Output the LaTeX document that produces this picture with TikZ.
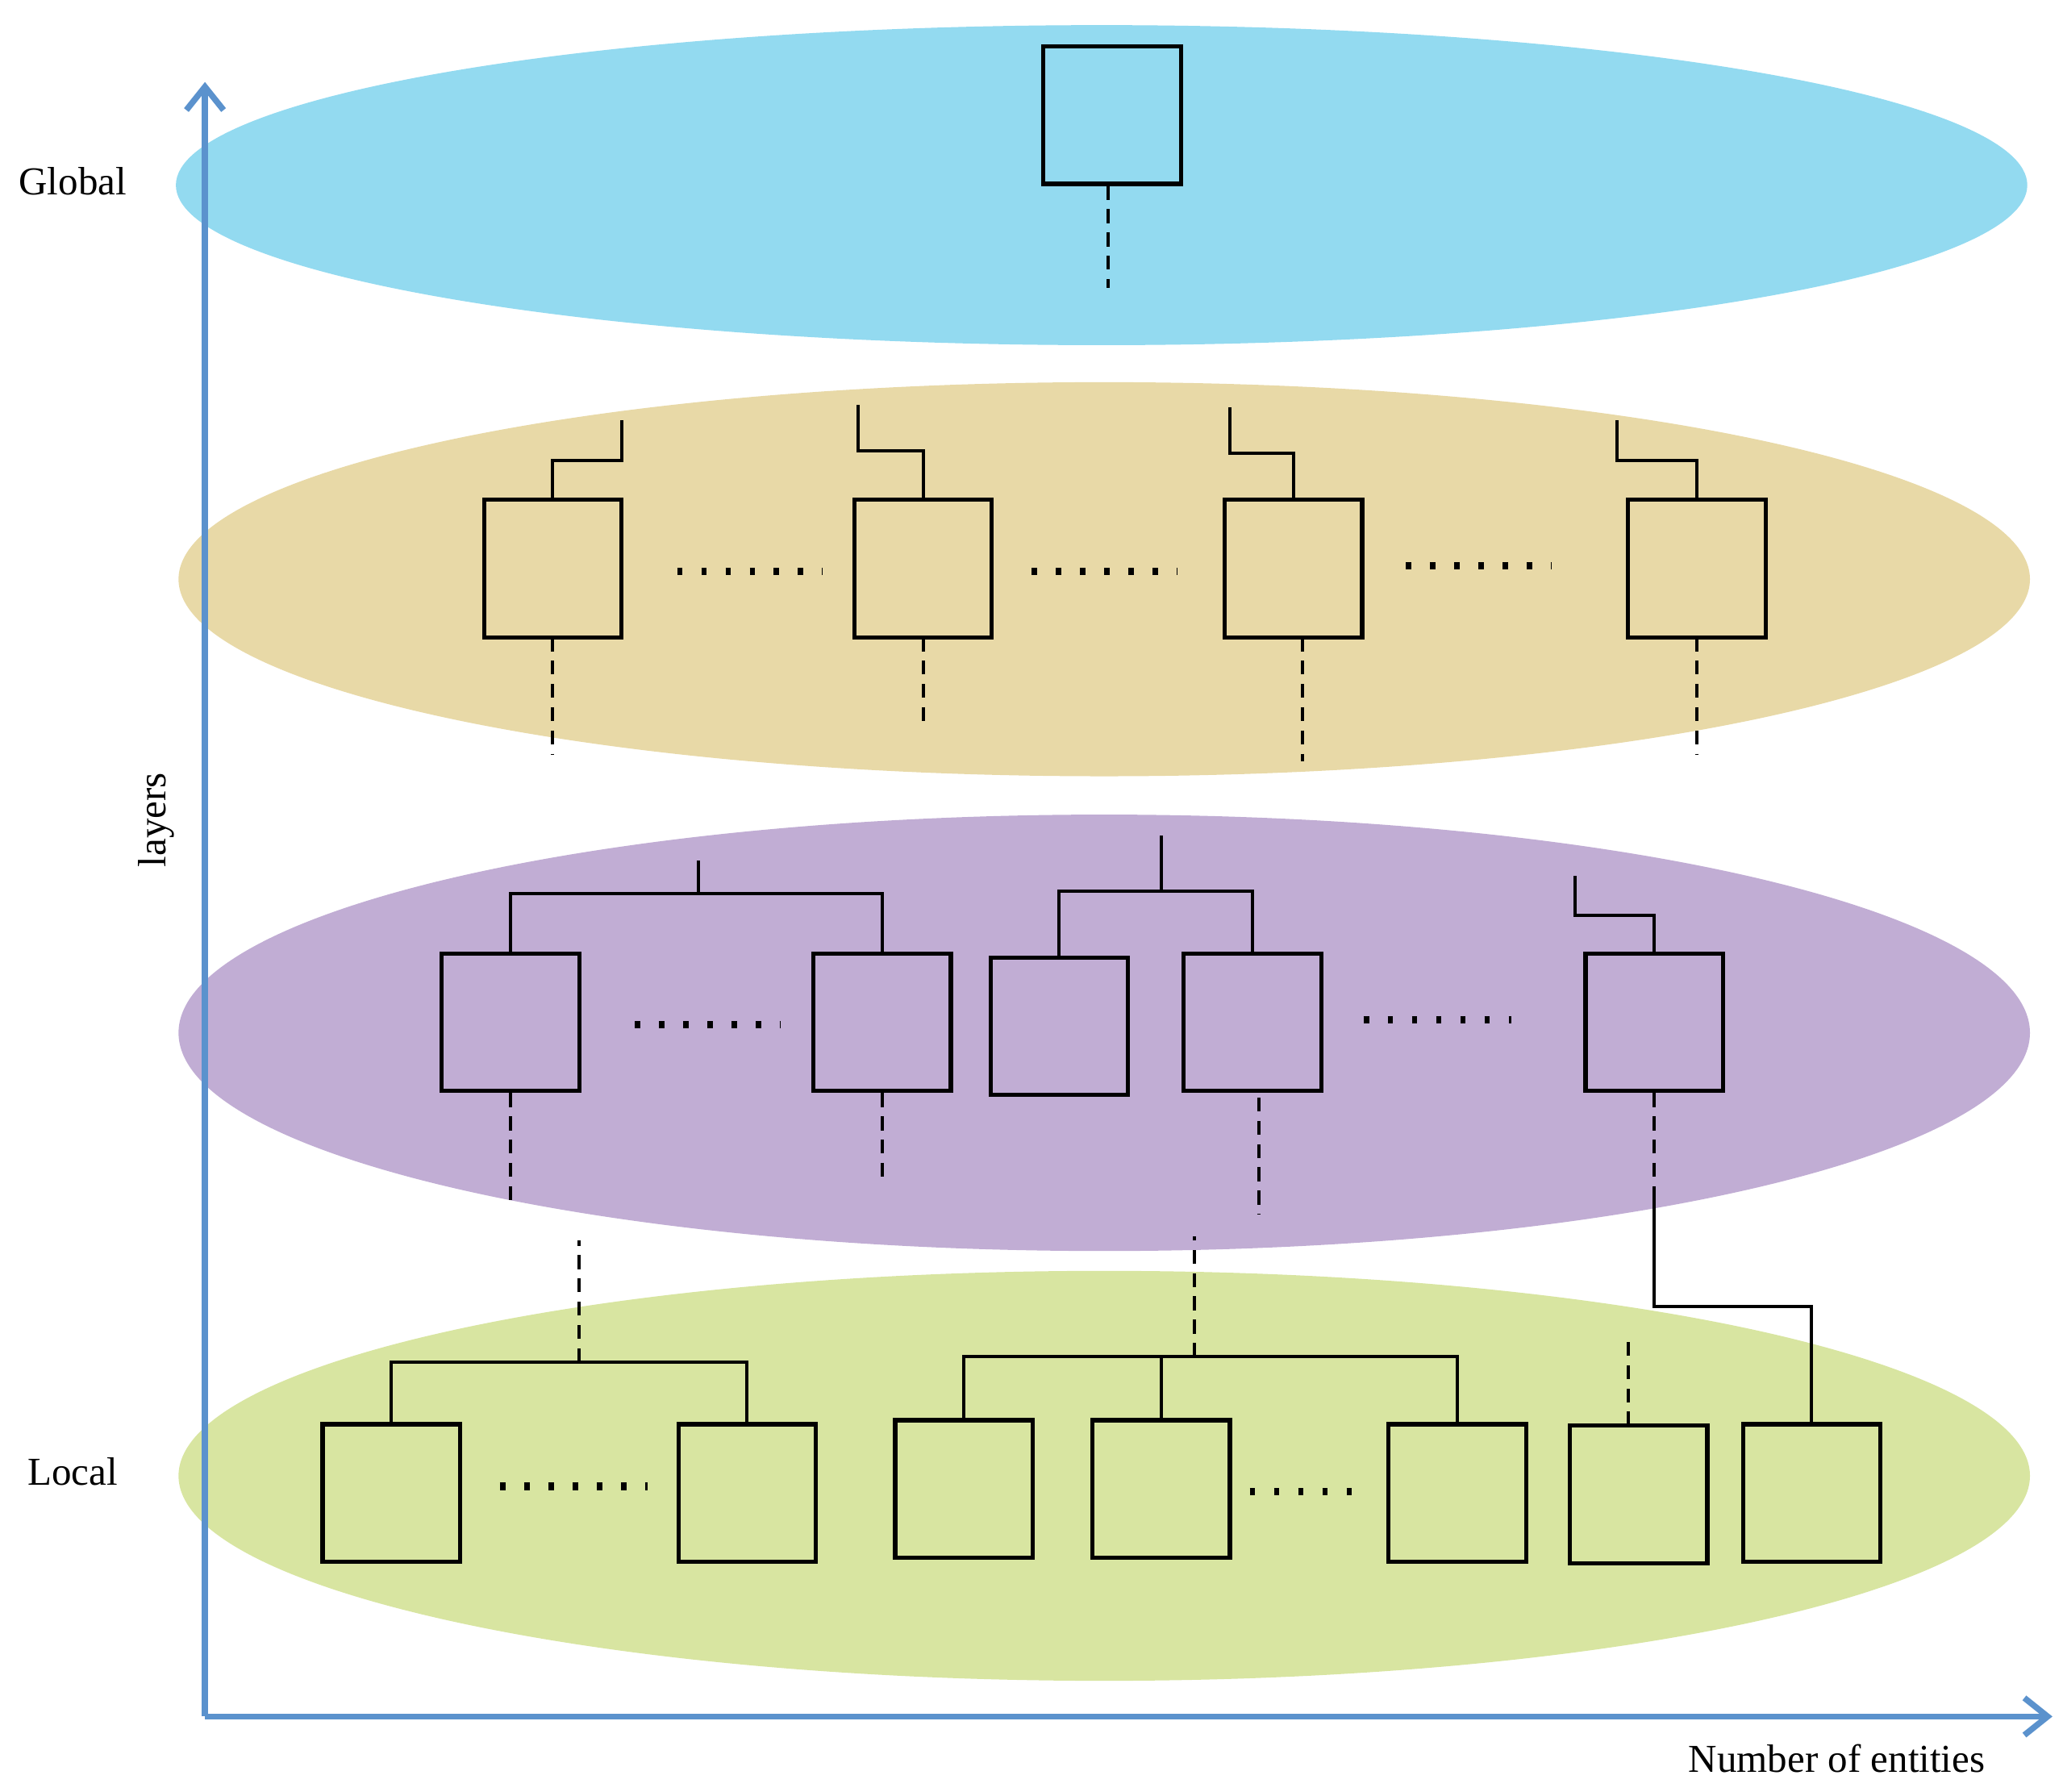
\documentclass[tikz,border=0pt]{standalone}
\usepackage{fontspec}
\setmainfont{Liberation Serif}
\usetikzlibrary{arrows.meta}
\definecolor{AxisBlue}{RGB}{91,146,205}
\definecolor{LayerGlobal}{RGB}{147,218,240}
\definecolor{LayerTan}{RGB}{232,217,167}
\definecolor{LayerPurple}{RGB}{193,173,212}
\definecolor{LayerLocal}{RGB}{216,229,161}
\begin{document}
\begin{tikzpicture}[x=0.01cm,y=-0.01cm,font=\fontsize{8.5}{10}\selectfont,
  box/.style={draw,line width=0.9pt,minimum width=1.04cm,minimum height=1.04cm,inner sep=0pt},
  link/.style={line width=0.7pt},
  dlink/.style={line width=0.7pt,dash pattern=on 3pt off 2pt},
  gap/.style={line width=1.6pt,dash pattern=on 1.2pt off 4pt},
  axis/.style={AxisBlue,line width=1.3pt,-{Straight Barb[length=5pt,width=8pt]}}]
\useasboundingbox (0,0) rectangle (1560,1355);
% layers
\fill[LayerGlobal] (833,140) ellipse (700 and 121);
\fill[LayerTan] (835,438) ellipse (700 and 149);
\fill[LayerPurple] (835,781) ellipse (700 and 165);
\fill[LayerLocal] (835,1116) ellipse (700 and 155);
% axes
\coordinate (o) at (155,1298);
\coordinate (ytop) at (155,62);
\coordinate (xend) at (1552,1298);
\draw[axis] (o) -- (ytop);
\draw[axis] (o) -- (xend);
\node (global) at (55,137) {Global};
\node (local) at (55,1113) {Local};
\node[rotate=90] (layers) at (118,620) {layers};
\node (entities) at (1389,1330) {Number of entities};
% global
\node[box] (g) at (841,87) {};
\coordinate (g0) at (838,218);
\draw[dlink] (g.south-|g0) -- (g0);
% tan layer
\foreach \n/\x in {t1/418,t2/698,t3/978,t4/1283} {
  \node[box] (\n) at (\x,430) {};
}
\foreach \n/\y/\e/\t in {t1/348/470/318,t2/341/649/306,t3/343/930/308,t4/348/1223/318} {
  \draw[link] (\n.north) |- (\e,\y) -- (\e,\t);
}
\foreach \n/\x/\y in {t1/418/570,t2/698/548,t3/985/576,t4/1283/570} {
  \draw[dlink] (\x,482) -- (\x,\y);
}
\draw[gap] (512,432) -- (622,432);
\draw[gap] (780,432) -- (890,432);
\draw[gap] (1063,428) -- (1173,428);
% purple layer
\node[box] (p1) at (386,773) {};
\node[box] (p2) at (667,773) {};
\node[box] (p3) at (801,776) {};
\node[box] (p4) at (947,773) {};
\node[box] (p5) at (1251,773) {};
\coordinate (s1) at (528,676);
\coordinate (s2) at (878,674);
\draw[link] (p1.north) |- (s1) -| (p2.north);
\draw[link] (s1) -- ++(0,-25);
\draw[link] (p3.north) |- (s2) -| (p4.north);
\draw[link] (s2) -- ++(0,-42);
\draw[link] (p5.north) |- (1191,692) -- (1191,662);
\draw[dlink] (p1.south) -- (386,913);
\draw[dlink] (p2.south) -- (667,892);
\draw[dlink] (952,830) -- (952,918);
\draw[dlink] (p5.south) -- (1251,905);
\draw[gap] (480,775) -- (590,775);
\draw[gap] (1031,771) -- (1143,771);
% local layer
\node[box] (l1) at (296,1129) {};
\node[box] (l2) at (565,1129) {};
\node[box] (l3) at (729,1126) {};
\node[box] (l4) at (878,1126) {};
\node[box] (l5) at (1102,1129) {};
\node[box] (l6) at (1239,1130) {};
\node[box] (l7) at (1370,1129) {};
\coordinate (s3) at (438,1030);
\coordinate (s4) at (903,1026);
\draw[link] (l1.north) |- (s3) -| (l2.north);
\draw[dlink] (s3) -- (438,938);
\draw[link] (l3.north) |- (s4) -| (l5.north);
\draw[link] (s4) -| (l4.north);
\draw[dlink] (s4) -- (903,935);
\draw[dlink] (1231,1078) -- (1231,1012);
\draw[link] (1251,905) |- (1370,988) -- (l7.north);
% gaps
\draw[gap] (378,1124) -- (490,1124);
\draw[gap] (945,1128) -- (1035,1128);
\end{tikzpicture}
\end{document}
